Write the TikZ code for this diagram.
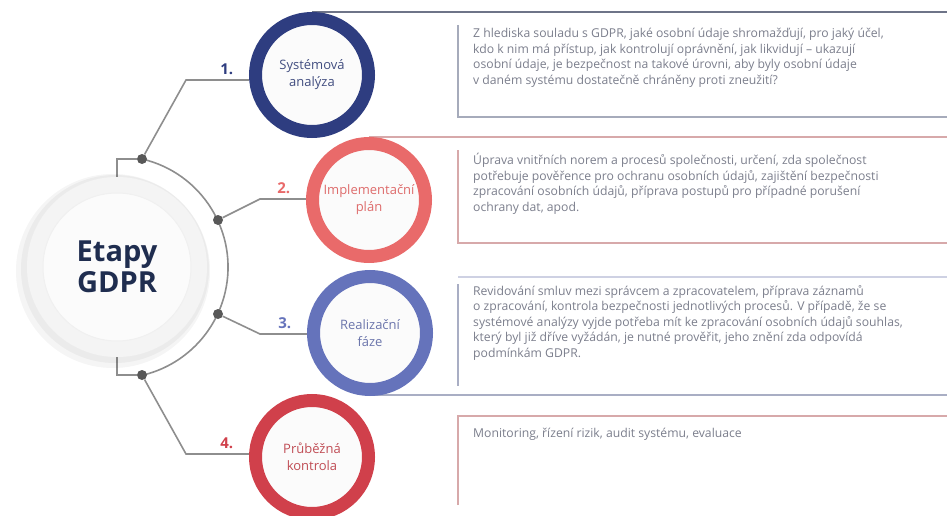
\documentclass[tikz,border=0pt]{standalone}
\usepackage{fontspec}
\setmainfont{Open Sans}
\usetikzlibrary{positioning,backgrounds}

\definecolor{navy}{HTML}{2E3D80}
\definecolor{salmon}{HTML}{E96A6A}
\definecolor{periwinkle}{HTML}{6573BB}
\definecolor{crimson}{HTML}{D0404B}
\definecolor{wiregray}{HTML}{8E8E8E}
\definecolor{dotgray}{HTML}{585858}
\definecolor{bodygray}{HTML}{7B7E8C}
\definecolor{titlenavy}{HTML}{1F2D4F}
\definecolor{slateline}{HTML}{6E7488}
\definecolor{steelline}{HTML}{A6ABBB}
\definecolor{rosyline}{HTML}{D7A9AA}
\definecolor{lilacline}{HTML}{CED1E3}
\definecolor{lilacgray}{HTML}{A9AEC4}

\begin{document}
\begin{tikzpicture}[x=1pt,y=-1pt,
	stage/.style={shape=circle,minimum size=113pt,line width=13pt,fill=white!97!gray,align=center,inner sep=0pt,font=\fontsize{13}{17}\selectfont},
	num/.style={font=\fontsize{15}{15}\selectfont\bfseries,inner sep=0pt,anchor=south east,xshift=-15pt,yshift=5pt},
	dot/.style={shape=circle,fill=dotgray,inner sep=0pt,minimum size=10pt},
	wire/.style={draw=wiregray,line width=1.6pt},
	rule/.style={line width=2.6pt},
	body/.style={anchor=north west,align=left,inner sep=0pt,text=bodygray,font=\fontsize{12.2}{15.6}\selectfont}]
	
	\useasboundingbox (0,0) rectangle (947,516);
	
	\fill[black,opacity=0.04] (113,271) circle[radius=97pt];
	\fill[black,opacity=0.04] (115,269) circle[radius=94pt];
	\node[shape=circle,minimum size=180pt,fill=white!91!gray] (ring) at (117,267) {};
	\node[shape=circle,minimum size=148pt,fill=white!97!gray,draw=white!88!gray,line width=1pt,align=center,text=titlenavy,font=\fontsize{29}{31}\selectfont\bfseries] (etapy) at (117,267) {Etapy\\GDPR};
	
	\node[dot] (dA) at (142,159) {};
	\node[dot] (dB) at (218,220) {};
	\node[dot] (dC) at (218,314) {};
	\node[dot] (dD) at (142,375) {};
	
	\node[stage,draw=navy,text=navy!75!gray]             (s1) at (312,75)  {Systémová\\analýza};
	\node[stage,draw=salmon,text=salmon!90!gray]         (s2) at (369,200) {Implementační\\plán};
	\node[stage,draw=periwinkle,text=periwinkle!75!gray] (s3) at (370,333) {Realizační\\fáze};
	\node[stage,draw=crimson,text=crimson!80!gray]       (s4) at (312,457) {Průběžná\\kontrola};
	
	\coordinate (k1) at (186,80);
	\coordinate (k2) at (260,199);
	\coordinate (k3) at (260,334);
	\coordinate (k4) at (186,454);
	
	\node[body] (t1) at (473,28) {Z hlediska souladu s GDPR, jaké osobní údaje shromažďují, pro jaký účel,\\kdo k nim má přístup, jak kontrolují oprávnění, jak likvidují – ukazují\\osobní údaje, je bezpečnost na takové úrovni, aby byly osobní údaje\\v daném systému dostatečně chráněny proti zneužití?};
	\node[body] (t2) at (473,153) {Úprava vnitřních norem a procesů společnosti, určení, zda společnost\\potřebuje pověřence pro ochranu osobních údajů, zajištění bezpečnosti\\zpracování osobních údajů, příprava postupů pro případné porušení\\ochrany dat, apod.};
	\node[body] (t3) at (473,285) {Revidování smluv mezi správcem a zpracovatelem, příprava záznamů\\o zpracování, kontrola bezpečnosti jednotlivých procesů. V případě, že se\\systémové analýzy vyjde potřeba mít ke zpracování osobních údajů souhlas,\\který byl již dříve vyžádán, je nutné prověřit, jeho znění zda odpovídá\\podmínkám GDPR.};
	\node[body] (t4) at (473,428) {Monitoring, řízení rizik, audit systému, evaluace};
	
	\begin{scope}[on background layer]
		\draw[wire] (ring.north) |- (dA);
		\draw[wire] (ring.south) |- (dD);
		\draw[wire] (dA) arc[start angle=77,end angle=-77,radius=111pt];
		\draw[wire] (dA) -- (k1) -- (k1 -| s1.west) node[num,text=navy] {1.};
		\draw[wire] (dB) -- (k2) -- (k2 -| s2.west) node[num,text=salmon] {2.};
		\draw[wire] (dC) -- (k3) -- (k3 -| s3.west) node[num,text=periwinkle] {3.};
		\draw[wire] (dD) -- (k4) -- (k4 -| s4.west) node[num,text=crimson] {4.};
		
		\draw[rule,slateline] (312,12) -- (947,12);
		\draw[rule,steelline] (458,25) |- (947,117);
		\draw[rule,rosyline] (369,137) -- (947,137);
		\draw[rule,rosyline] (458,150) |- (947,243);
		\draw[rule,lilacline] (458,277) -- (947,277);
		\draw[rule,lilacgray,line width=1.6pt] (458,284) -- (458,386);
		\draw[rule,lilacgray] (370,395) -- (947,395);
		\draw[rule,rosyline] (458,505) |- (947,416);
	\end{scope}
	
\end{tikzpicture}
\end{document}
